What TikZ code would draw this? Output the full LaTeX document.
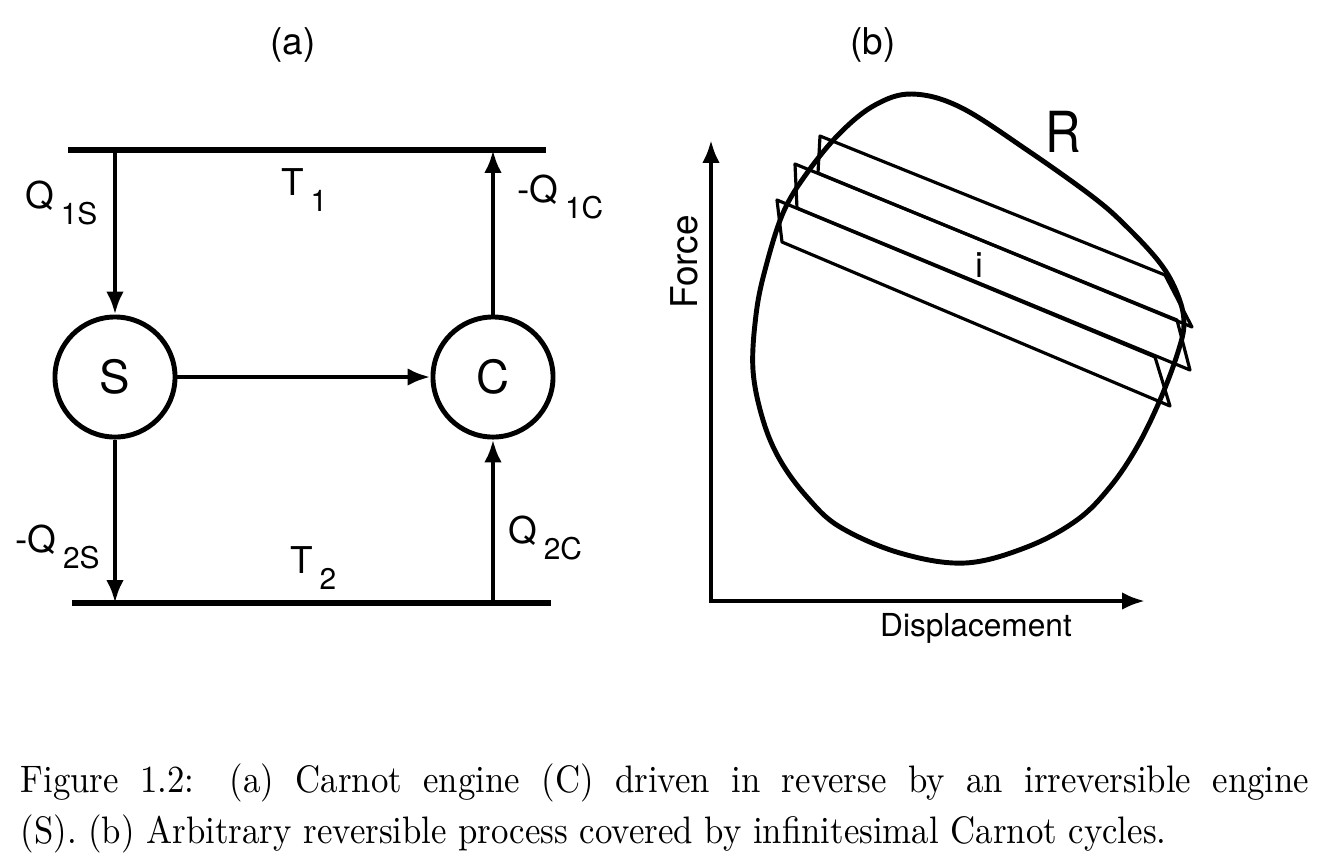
\documentclass[tikz,border=0pt]{standalone}
\usepackage{fontspec}
\newfontfamily\helv{TeX Gyre Heros}
\usepackage{tikz}
\usetikzlibrary{arrows.meta}
% tiefgestellter Index in Helvetica
\newcommand{\idx}[1]{\kern1.8pt\raisebox{-4.8pt}{\fontsize{8.5}{10}\selectfont #1}}

\begin{document}
\begin{tikzpicture}[x=0.01cm, y=-0.01cm,
		>={Latex[length=6.5pt,width=5pt]},   %Pfeilspitzen
		lbl/.style={font=\helv\fontsize{10.5}{12}\selectfont, inner sep=0pt, anchor=base west},
		engine/.style={draw, circle, line width=1.4pt, minimum size=1.2cm, inner sep=0pt,
			font=\helv\fontsize{13}{15}\selectfont},
		reservoir/.style={line width=1.7pt},
		flow/.style={->, line width=1.3pt},
		axis/.style={<->, line width=1.2pt},
		rcurve/.style={line width=1.4pt},
		carnot/.style={line width=0.9pt, line join=round},
		captxt/.style={anchor=base west, inner sep=0pt, yscale=1.1, font=\fontsize{9.9}{12}\selectfont}]
	\useasboundingbox (0,0) rectangle (1326,853);
	% (a) Waermebaeder und Maschinen
	\node[font=\helv\fontsize{10.5}{12}\selectfont] (titlea) at (293,45) {(a)};
	\draw[reservoir] (68,150) coordinate (hotL) -- (546,150) coordinate (hotR);
	\draw[reservoir] (72,603) coordinate (coldL) -- (551,603) coordinate (coldR);
	\node[engine] (S) at (115,377) {S};
	\node[engine] (C) at (493,377) {C};
	\coordinate (hs) at (115,150);
	\coordinate (hc) at (493,150);
	\coordinate (cs) at (115,603);
	\coordinate (cc) at (493,603);
	\draw[flow] (hs) -- (S);
	\draw[flow] (S) -- (cs);
	\draw[flow] (S) -- (C);
	\draw[flow] (C) -- (hc);
	\draw[flow] (cc) -- (C);
	% Beschriftung
	\node[lbl] (q1s) at (25,208) {Q\idx{1S}};
	\node[lbl] (t1) at (281,195) {T\idx{1}};
	\node[lbl] (q1c) at (517,202) {-Q\idx{1C}};
	\node[lbl] (q2s) at (15,552) {-Q\idx{2S}};
	\node[lbl] (t2) at (290,573) {T\idx{2}};
	\node[lbl] (q2c) at (508,543) {Q\idx{2C}};
	% (b) Achsen zeichnen
	\node[font=\helv\fontsize{10.5}{12}\selectfont] (titleb) at (873,45) {(b)};
	\coordinate (ytip) at (711,140);
	\coordinate (xtip) at (1145,601);
	\draw[axis] (ytip) |- (xtip);
	\node[font=\helv\fontsize{10.5}{12}\selectfont, rotate=90] (force) at (684,262) {Force};
	\node[font=\helv\fontsize{9}{11}\selectfont] (displ) at (976,628) {Displacement};
	% Prozess R
	\draw[rcurve] plot[smooth cycle, tension=0.6] coordinates {(912,94) (960,107) (1027,150)
		(1093,197) (1127,227) (1160,263) (1177,293) (1184,322) (1178,352) (1160,400)
		(1137,447) (1110,487) (1077,520) (1027,547) (965,563) (900,553) (840,527)
		(807,497) (780,460) (763,420) (753,370) (756,315) (765,270) (783,213)
		(807,173) (840,133) (875,105)};
	\node[font=\helv\fontsize{14}{16}\selectfont, yscale=1.15] (R) at (1063,132) {R};
	% Carnot-Zyklen
	\draw[carnot] (820,136) -- (1165,275) -- (1192,327) -- (818,173) -- cycle;
	\draw[carnot] (795,164) -- (1177,320) -- (1190,370) -- (797,208) -- cycle;
	\draw[carnot] (777,200) -- (1155,357) -- (1170,406) -- (782,242) -- cycle;
	\node[font=\helv\fontsize{10}{12}\selectfont] (i) at (979,265) {i};
	% Bildunterschrift
	\node[captxt] (cap1) at (20,792)
		{\makebox[12.88cm][s]{Figure 1.2: (a) Carnot engine (C) driven in reverse by an irreversible engine}};
	\node[captxt] (cap2) at (20,843)
		{(S). (b) Arbitrary reversible process covered by infinitesimal Carnot cycles.};
\end{tikzpicture}
\end{document}
